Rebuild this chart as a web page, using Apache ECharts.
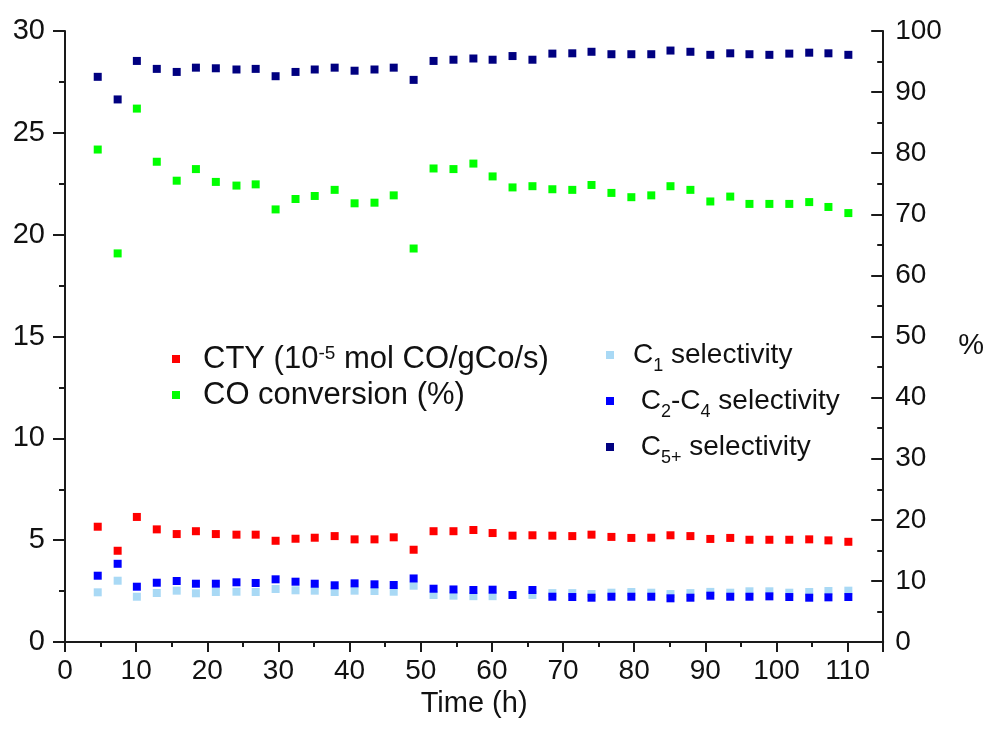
<!DOCTYPE html>
<html>
<head>
<meta charset="utf-8">
<script src="https://cdn.jsdelivr.net/npm/echarts@6/dist/echarts.min.js"></script>
<style>html,body{margin:0;padding:0;background:#fff;}#c{width:987px;height:742px;}</style>
</head>
<body>
<div id="c"></div>
<script>
// ---- data ----
const timeH = [4.6, 7.4, 10.1, 12.9, 15.7, 18.4, 21.2, 24.1, 26.8, 29.6, 32.4, 35.1, 37.9, 40.7, 43.5, 46.2, 49.0, 51.8, 54.6, 57.4, 60.1, 62.9, 65.7, 68.5, 71.3, 74.0, 76.8, 79.6, 82.4, 85.1, 87.9, 90.7, 93.5, 96.2, 99.0, 101.8, 104.6, 107.3, 110.1];
const cty = [5.66, 4.48, 6.14, 5.53, 5.30, 5.44, 5.30, 5.27, 5.27, 4.97, 5.07, 5.12, 5.20, 5.04, 5.04, 5.14, 4.53, 5.44, 5.44, 5.50, 5.35, 5.22, 5.24, 5.22, 5.20, 5.27, 5.16, 5.11, 5.12, 5.24, 5.20, 5.06, 5.11, 5.02, 5.02, 5.02, 5.04, 4.99, 4.92];
const coConversion = [80.6, 63.6, 87.3, 78.6, 75.5, 77.4, 75.3, 74.7, 74.9, 70.8, 72.5, 73.0, 74.0, 71.8, 71.9, 73.1, 64.4, 77.5, 77.4, 78.3, 76.2, 74.4, 74.6, 74.1, 74.0, 74.8, 73.5, 72.8, 73.1, 74.6, 74.0, 72.1, 72.9, 71.7, 71.7, 71.7, 72.0, 71.2, 70.2];
const selC1 = [8.13, 10.03, 7.41, 8.02, 8.40, 7.97, 8.18, 8.23, 8.18, 8.67, 8.46, 8.40, 8.18, 8.40, 8.35, 8.23, 9.21, 7.69, 7.58, 7.50, 7.50, 7.70, 7.70, 8.00, 8.00, 7.85, 8.07, 8.18, 8.07, 7.85, 8.00, 8.20, 8.07, 8.30, 8.30, 8.07, 8.18, 8.35, 8.40];
const selC2C4 = [10.85, 12.8, 9.05, 9.70, 9.98, 9.54, 9.54, 9.77, 9.66, 10.26, 9.87, 9.54, 9.28, 9.60, 9.44, 9.33, 10.4, 8.72, 8.60, 8.51, 8.56, 7.69, 8.51, 7.41, 7.36, 7.25, 7.41, 7.41, 7.41, 7.15, 7.25, 7.58, 7.41, 7.41, 7.47, 7.36, 7.25, 7.31, 7.36];
const selC5 = [92.5, 88.8, 95.1, 93.8, 93.3, 94.0, 93.9, 93.7, 93.8, 92.6, 93.3, 93.7, 94.0, 93.5, 93.7, 94.0, 92.0, 95.1, 95.3, 95.5, 95.3, 95.9, 95.3, 96.3, 96.35, 96.6, 96.2, 96.2, 96.2, 96.8, 96.6, 96.1, 96.35, 96.2, 96.1, 96.3, 96.45, 96.35, 96.1];
const leftTicks = [0, 5, 10, 15, 20, 25, 30];
const rightTicks = [0, 10, 20, 30, 40, 50, 60, 70, 80, 90, 100];
const xTicks = [0, 10, 20, 30, 40, 50, 60, 70, 80, 90, 100, 110];

const legendLabels = {
  'CTY': 'CTY (10{sup|-5} mol CO/gCo/s)',
  'CO conversion': 'CO conversion (%)',
  'C1': 'C{sub|1} selectivity',
  'C2-C4': ' C{sub|2}-C{sub|4} selectivity',
  'C5+': ' C{sub|5+} selectivity'
};

const pair = (xs, ys) => xs.map((x, i) => [x, ys[i]]);
const FONT = '"Liberation Sans", Arial, Helvetica, sans-serif';
const AX = '#1a1a1a';

const chart = echarts.init(document.getElementById('c'), null, {renderer: 'canvas'});
const sq = 'path://M0,0H1V1H0Z';
function legendCfg(names, left, top, lh, gap, w, fs) {
  return {
    data: names, orient: 'vertical', left: left, top: top,
    itemWidth: w, itemHeight: 8, itemGap: gap, icon: sq, selectedMode: false,
    formatter: n => legendLabels[n],
    textStyle: {
      fontFamily: FONT, fontSize: fs, color: '#111', lineHeight: lh,
      rich: {
        sup: {fontFamily: FONT, fontSize: Math.round(fs * 0.6), color: '#111', verticalAlign: 'top', padding: [1, 0, 0, 0]},
        sub: {fontFamily: FONT, fontSize: Math.round(fs * 0.64), color: '#111', verticalAlign: 'bottom', lineHeight: 18}
      }
    }
  };
}

const option = {
  animation: false,
  backgroundColor: '#fff',
  grid: {left: 65, right: 102, top: 31, bottom: 100},
  legend: [
    legendCfg(['CTY', 'CO conversion'], 167, 338, 32, 4, 44, 31),
    legendCfg(['C1', 'C2-C4', 'C5+'], 601, 330, 40, 6, 36, 28)
  ],
  xAxis: {
    type: 'value', min: 0, max: 115, interval: 10,
    name: 'Time (h)', nameLocation: 'middle', nameGap: 36,
    nameTextStyle: {fontFamily: FONT, fontSize: 29, color: '#111'},
    axisLine: {show: true, lineStyle: {color: AX, width: 2}},
    axisTick: {show: true, length: 10, lineStyle: {color: AX, width: 2}},
    minorTick: {show: true, splitNumber: 2, length: 5, lineStyle: {color: AX, width: 2}},
    axisLabel: {fontFamily: FONT, fontSize: 28, color: '#111', margin: 15, showMaxLabel: false,
      formatter: v => xTicks.includes(v) ? String(v) : ''},
    splitLine: {show: false}
  },
  yAxis: [
    {
      type: 'value', min: 0, max: 30, interval: 5, position: 'left',
      axisLine: {show: true, lineStyle: {color: AX, width: 2}},
      axisTick: {show: true, length: 12, lineStyle: {color: AX, width: 2}},
      minorTick: {show: true, splitNumber: 2, length: 6, lineStyle: {color: AX, width: 2}},
      axisLabel: {fontFamily: FONT, fontSize: 29, color: '#111', margin: 20,
        formatter: v => leftTicks.includes(v) ? String(v) : ''},
      splitLine: {show: false}
    },
    {
      type: 'value', min: 0, max: 100, interval: 10, position: 'right',
      name: '%', nameLocation: 'middle', nameGap: 75, nameRotate: 0,
      nameTextStyle: {fontFamily: FONT, fontSize: 29, color: '#111', verticalAlign: 'top', lineHeight: 18},
      axisLine: {show: true, lineStyle: {color: AX, width: 2}},
      axisTick: {show: true, inside: true, length: 12, lineStyle: {color: AX, width: 2}},
      minorTick: {show: true, splitNumber: 2, length: 6, lineStyle: {color: AX, width: 2}},
      axisLabel: {fontFamily: FONT, fontSize: 28, color: '#111', margin: 12,
        formatter: v => rightTicks.includes(v) ? String(v) : ''},
      splitLine: {show: false}
    }
  ],
  series: [
    {name: 'CTY', type: 'scatter', yAxisIndex: 0, symbol: 'rect', symbolSize: 8,
     itemStyle: {color: '#ff0000', opacity: 1}, data: pair(timeH, cty)},
    {name: 'CO conversion', type: 'scatter', yAxisIndex: 1, symbol: 'rect', symbolSize: 8,
     itemStyle: {color: '#00ff00', opacity: 1}, data: pair(timeH, coConversion)},
    {name: 'C1', type: 'scatter', yAxisIndex: 1, symbol: 'rect', symbolSize: 8,
     itemStyle: {color: '#a9d9f5', opacity: 1}, data: pair(timeH, selC1)},
    {name: 'C2-C4', type: 'scatter', yAxisIndex: 1, symbol: 'rect', symbolSize: 8,
     itemStyle: {color: '#0000ff', opacity: 1}, data: pair(timeH, selC2C4)},
    {name: 'C5+', type: 'scatter', yAxisIndex: 1, symbol: 'rect', symbolSize: 8,
     itemStyle: {color: '#000080', opacity: 1}, data: pair(timeH, selC5)}
  ]
};
chart.setOption(option);
</script>
</body>
</html>
